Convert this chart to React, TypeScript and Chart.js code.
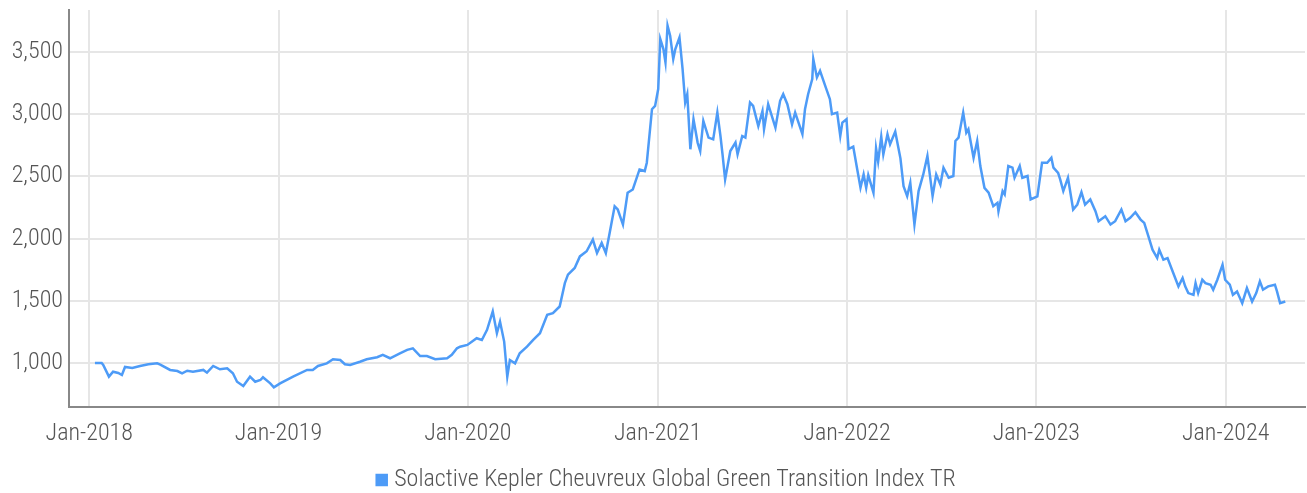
import React, { useEffect, useRef } from "react";
import { Chart, registerables } from "chart.js";

Chart.register(...registerables);

const SERIES_LABEL = "Solactive Kepler Cheuvreux Global Green Transition Index TR";

const DATES: string[] = [
  "2018-01-12","2018-01-25","2018-01-28","2018-02-08","2018-02-16","2018-02-26","2018-03-05","2018-03-11","2018-03-25","2018-04-09",
  "2018-04-25","2018-05-12","2018-05-18","2018-06-06","2018-06-20","2018-06-29","2018-07-09","2018-07-20","2018-08-09","2018-08-16",
  "2018-08-28","2018-09-10","2018-09-24","2018-10-05","2018-10-13","2018-10-25","2018-11-07","2018-11-17","2018-11-27","2018-12-02",
  "2018-12-16","2018-12-23",
  "2019-01-04","2019-01-29","2019-02-25","2019-03-08","2019-03-18","2019-04-04","2019-04-16","2019-04-30","2019-05-09","2019-05-19",
  "2019-06-07","2019-06-20","2019-07-10","2019-07-21","2019-08-04","2019-08-23","2019-09-06","2019-09-17","2019-10-01","2019-10-14",
  "2019-10-30","2019-11-22","2019-12-01","2019-12-11","2019-12-17","2019-12-31",
  "2020-01-18","2020-01-28","2020-02-07","2020-02-18","2020-02-26","2020-03-03","2020-03-11","2020-03-17","2020-03-22","2020-04-01",
  "2020-04-10","2020-04-24","2020-05-06","2020-05-19","2020-06-02","2020-06-13","2020-06-26","2020-07-06","2020-07-12","2020-07-25",
  "2020-08-04","2020-08-17","2020-08-29","2020-09-06","2020-09-15","2020-09-23","2020-10-01","2020-10-10","2020-10-16","2020-10-26",
  "2020-11-04","2020-11-14","2020-11-27","2020-12-07","2020-12-11","2020-12-21","2020-12-27",
  "2021-01-02","2021-01-06","2021-01-12","2021-01-16","2021-01-20","2021-01-25","2021-01-31","2021-02-04","2021-02-12","2021-02-18",
  "2021-02-23","2021-02-27","2021-03-05","2021-03-11","2021-03-19","2021-03-24","2021-03-30","2021-04-09","2021-04-18","2021-04-26",
  "2021-05-02","2021-05-06","2021-05-11","2021-05-21","2021-05-31","2021-06-04","2021-06-13","2021-06-19","2021-06-28","2021-07-04",
  "2021-07-14","2021-07-22","2021-07-25","2021-08-02","2021-08-16","2021-08-25","2021-08-31","2021-09-08","2021-09-17","2021-09-23",
  "2021-10-07","2021-10-12","2021-10-18","2021-10-26","2021-10-28","2021-11-04","2021-11-10","2021-11-20","2021-11-29","2021-12-03",
  "2021-12-13","2021-12-19","2021-12-23","2021-12-31",
  "2022-01-04","2022-01-13","2022-01-21","2022-01-27","2022-02-02","2022-02-07","2022-02-11","2022-02-21","2022-02-26","2022-03-02",
  "2022-03-08","2022-03-12","2022-03-20","2022-03-25","2022-04-04","2022-04-14","2022-04-20","2022-04-27","2022-05-03","2022-05-11",
  "2022-05-19","2022-05-28","2022-06-05","2022-06-15","2022-06-22","2022-06-30","2022-07-06","2022-07-16","2022-07-25","2022-07-29",
  "2022-08-04","2022-08-13","2022-08-19","2022-08-23","2022-09-02","2022-09-09","2022-09-15","2022-09-23","2022-10-01","2022-10-10",
  "2022-10-18","2022-10-20","2022-10-28","2022-11-01","2022-11-08","2022-11-16","2022-11-20","2022-11-30","2022-12-05","2022-12-15",
  "2022-12-21",
  "2023-01-03","2023-01-12","2023-01-22","2023-01-30","2023-02-03","2023-02-12","2023-02-16","2023-02-22","2023-03-03","2023-03-13",
  "2023-03-21","2023-03-29","2023-04-05","2023-04-15","2023-04-25","2023-05-01","2023-05-14","2023-05-24","2023-06-02","2023-06-14",
  "2023-06-22","2023-07-01","2023-07-11","2023-07-21","2023-07-28","2023-08-05","2023-08-13","2023-08-22","2023-08-26","2023-09-03",
  "2023-09-11","2023-09-22","2023-10-02","2023-10-10","2023-10-15","2023-10-21","2023-10-31","2023-11-04","2023-11-09","2023-11-17",
  "2023-11-23","2023-12-03","2023-12-08","2023-12-16","2023-12-26","2023-12-31",
  "2024-01-09","2024-01-15","2024-01-23","2024-02-02","2024-02-11","2024-02-21","2024-02-29","2024-03-07","2024-03-13","2024-03-23",
  "2024-04-05","2024-04-09","2024-04-15","2024-04-25",
];

const VALUES: number[] = [
  1000,1000,985,890,930,920,903,968,960,976,
  990,997,987,944,935,917,938,930,944,922,
  976,949,957,917,849,815,890,849,863,885,
  836,804,
  836,890,944,944,976,997,1030,1024,990,984,
  1010,1030,1046,1065,1038,1078,1105,1118,1056,1056,
  1030,1038,1065,1118,1131,1145,
  1199,1185,1266,1414,1239,1333,1172,890,1024,997,
  1078,1131,1185,1239,1387,1400,1454,1642,1710,1764,
  1857,1898,1992,1884,1965,1884,2059,2260,2234,2113,
  2369,2395,2556,2543,2610,3040,3067,
  3202,3605,3524,3417,3712,3631,3443,3524,3618,3363,
  3094,3161,2718,2960,2772,2704,2946,2812,2798,3013,
  2825,2677,2476,2704,2772,2677,2825,2812,3094,3067,
  2905,3026,2879,3081,2892,3108,3161,3081,2919,3013,
  2839,3040,3161,3282,3443,3296,3349,3228,3121,3000,
  3013,2825,2933,2960,
  2720,2740,2550,2410,2516,2408,2510,2369,2725,2620,
  2820,2677,2839,2758,2860,2645,2422,2342,2449,2113,
  2382,2516,2664,2342,2516,2435,2570,2489,2503,2785,
  2812,3013,2852,2879,2650,2785,2583,2408,2369,2261,
  2288,2220,2382,2355,2583,2570,2489,2583,2489,2503,
  2315,
  2340,2610,2610,2650,2570,2529,2476,2382,2489,2234,
  2274,2374,2274,2315,2220,2140,2180,2113,2140,2234,
  2140,2167,2212,2153,2126,2019,1911,1844,1911,1831,
  1844,1723,1616,1683,1616,1562,1548,1642,1562,1669,
  1642,1629,1589,1669,1790,1669,
  1629,1548,1575,1481,1602,1494,1562,1656,1589,1616,
  1629,1575,1481,1494,
];

const X_TICK_YEARS: number[] = [2018, 2019, 2020, 2021, 2022, 2023, 2024];
const Y_TICKS: number[] = [1000, 1500, 2000, 2500, 3000, 3500];
const X_MIN = "2017-11-23";
const X_MAX = "2024-06-02";
const Y_MIN = 646;
const Y_MAX = 3838;

const FONT = "'Roboto Condensed', 'Liberation Sans Narrow', 'Arial Narrow', 'DejaVu Sans Condensed', sans-serif";
const LINE_COLOR = "#4d9bf7";
const LEGEND_SHIFT = 16;

const legendShift = {
  id: "legendShift",
  afterLayout(chart: any) {
    const lg = chart.legend;
    if (lg) {
      lg.left += LEGEND_SHIFT;
      lg.right += LEGEND_SHIFT;
    }
  },
};

export default function App() {
  const ref = useRef<HTMLCanvasElement | null>(null);
  useEffect(() => {
    if (!ref.current) return;
    const data = DATES.map((d, i) => ({ x: Date.parse(d + "T00:00:00Z"), y: VALUES[i] }));
    const chart = new Chart(ref.current, {
      type: "line",
      data: {
        datasets: [
          {
            label: SERIES_LABEL,
            data,
            borderColor: LINE_COLOR,
            backgroundColor: LINE_COLOR,
            borderWidth: 2.5,
            pointRadius: 0,
            tension: 0,
            fill: false,
          },
        ],
      },
      plugins: [legendShift],
      options: {
        animation: false,
        responsive: true,
        maintainAspectRatio: false,
        layout: { padding: { left: 0, right: 2, top: 10, bottom: -9 } },
        plugins: {
          legend: {
            position: "bottom",
            labels: {
              usePointStyle: true,
              pointStyle: "rect",
              boxWidth: 1,
              boxHeight: 12.5,
              color: "#555",
              font: { family: FONT, size: 24, weight: "300" },
              padding: 8,
              generateLabels: (c: any) => {
                const items = Chart.defaults.plugins.legend.labels.generateLabels(c);
                items.forEach((it: any) => {
                  it.lineWidth = 0;
                  it.fillStyle = LINE_COLOR;
                  it.pointStyle = "rect";
                });
                return items;
              },
            },
          },
          tooltip: { enabled: false },
        },
        scales: {
          x: {
            type: "linear",
            min: Date.parse(X_MIN + "T00:00:00Z"),
            max: Date.parse(X_MAX + "T00:00:00Z"),
            afterBuildTicks: (s: any) => {
              s.ticks = X_TICK_YEARS.map((y) => ({ value: Date.UTC(y, 0, 1) }));
            },
            afterFit: (s: any) => {
              s.height = 53;
            },
            ticks: {
              autoSkip: false,
              maxRotation: 0,
              color: "#555",
              font: { family: FONT, size: 24, weight: "300" },
              padding: 13,
              callback: (v: any) => "Jan-" + new Date(Number(v)).getUTCFullYear(),
            },
            grid: { color: "#e6e6e6", lineWidth: 2, drawTicks: false },
            border: { color: "#888", width: 2 },
          },
          y: {
            min: Y_MIN,
            max: Y_MAX,
            afterBuildTicks: (s: any) => {
              s.ticks = Y_TICKS.map((v) => ({ value: v }));
            },
            afterFit: (s: any) => {
              s.width = 69;
              s.paddingTop = 0;
              s.paddingBottom = 0;
            },
            ticks: {
              color: "#555",
              font: { family: FONT, size: 24, weight: "300" },
              padding: 6,
              callback: (v: any) => Number(v).toLocaleString("en-US"),
            },
            grid: { color: "#e6e6e6", lineWidth: 2, drawTicks: false },
            border: { color: "#888", width: 2 },
          },
        },
      },
    });
    return () => chart.destroy();
  }, []);
  return (
    <div style={{ position: "fixed", left: 0, top: 0, width: 1307, height: 493, background: "#fff" }}>
      <canvas ref={ref} />
    </div>
  );
}
